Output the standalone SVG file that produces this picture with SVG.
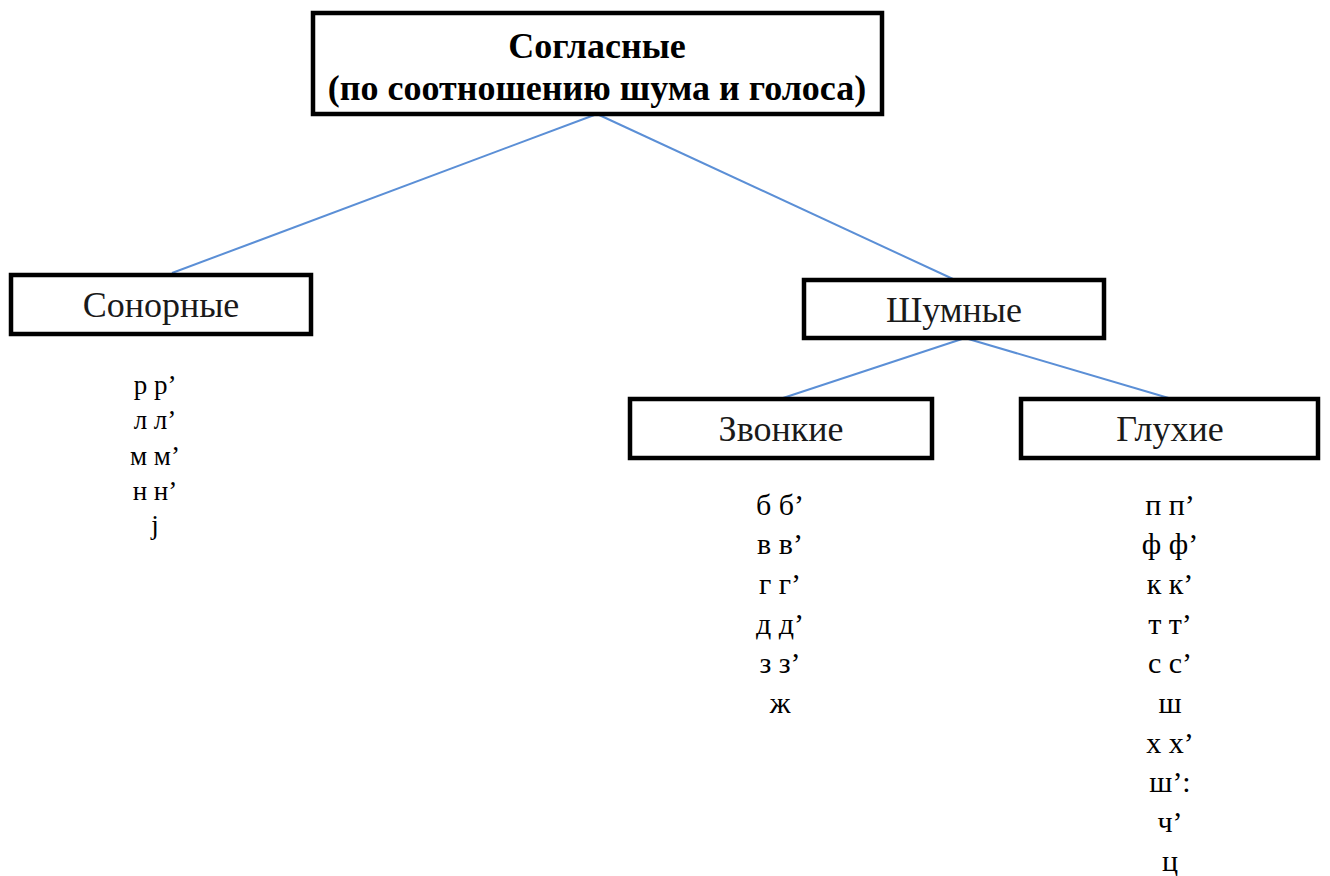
<svg xmlns="http://www.w3.org/2000/svg" width="1330" height="876" viewBox="0 0 1330 876">
  <style>
    .box { fill: #ffffff; stroke: #000000; stroke-width: 4.5; }
    text { font-family: "Liberation Serif", "DejaVu Serif", serif; text-anchor: middle; fill: #000; }
    .title { font-weight: bold; font-size: 36px; }
    .label { font-size: 36px; fill: #1a1a1a; }
    .item { font-size: 30px; }
    .item-s { font-size: 27px; }
    .link { stroke: #5b8fd6; stroke-width: 2; fill: none; }
  </style>
  <rect width="1330" height="876" fill="#ffffff"/>

  <g id="connectors">
    <line class="link" x1="597" y1="114" x2="172" y2="273"/>
    <line class="link" x1="597" y1="114" x2="953" y2="279"/>
    <line class="link" x1="965" y1="338" x2="780" y2="399"/>
    <line class="link" x1="965" y1="338" x2="1172" y2="399"/>
  </g>

  <g id="node-consonants">
    <rect class="box" x="313" y="13" width="569" height="101"/>
    <text class="title" x="597" y="58">Согласные</text>
    <text class="title" x="597" y="100">(по соотношению шума и голоса)</text>
  </g>

  <g id="node-sonorant">
    <rect class="box" x="11" y="275" width="300" height="59"/>
    <text class="label" x="161" y="317">Сонорные</text>
    <text class="item-s" x="155" y="394">р р’</text>
    <text class="item-s" x="155" y="429">л л’</text>
    <text class="item-s" x="155" y="465">м м’</text>
    <text class="item-s" x="155" y="500">н н’</text>
    <text class="item-s" x="155" y="534">j</text>
  </g>

  <g id="node-noisy">
    <rect class="box" x="804" y="280" width="300" height="58"/>
    <text class="label" x="954" y="322">Шумные</text>
  </g>

  <g id="node-voiced">
    <rect class="box" x="630" y="399" width="302" height="59"/>
    <text class="label" x="781" y="441">Звонкие</text>
    <text class="item" x="780" y="515">б б’</text>
    <text class="item" x="780" y="554">в в’</text>
    <text class="item" x="780" y="594">г г’</text>
    <text class="item" x="780" y="634">д д’</text>
    <text class="item" x="780" y="673">з з’</text>
    <text class="item" x="780" y="713">ж</text>
  </g>

  <g id="node-voiceless">
    <rect class="box" x="1021" y="399" width="297" height="59"/>
    <text class="label" x="1170" y="441">Глухие</text>
    <text class="item" x="1170" y="515">п п’</text>
    <text class="item" x="1170" y="554">ф ф’</text>
    <text class="item" x="1170" y="594">к к’</text>
    <text class="item" x="1170" y="634">т т’</text>
    <text class="item" x="1170" y="673">с с’</text>
    <text class="item" x="1170" y="713">ш</text>
    <text class="item" x="1170" y="753">х х’</text>
    <text class="item" x="1170" y="792">ш’:</text>
    <text class="item" x="1170" y="832">ч’</text>
    <text class="item" x="1170" y="871">ц</text>
  </g>
</svg>
